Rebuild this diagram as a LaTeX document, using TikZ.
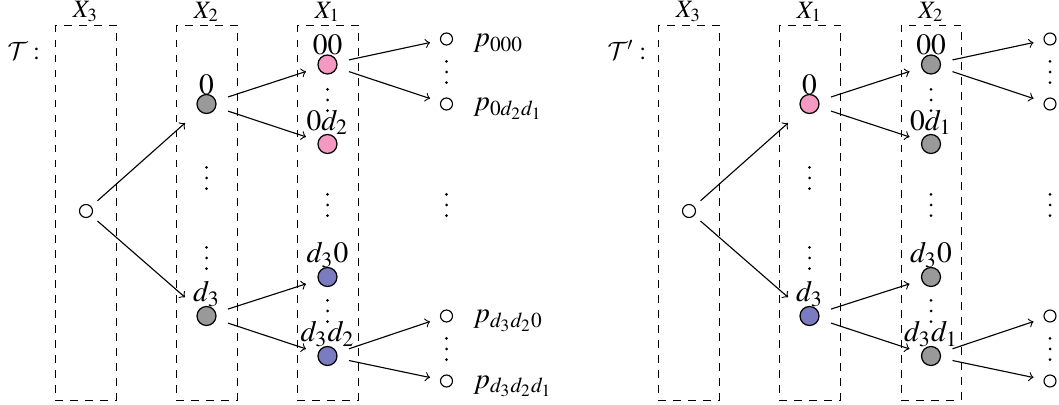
\documentclass[tikz,border=0pt]{standalone}
\usepackage{mathptmx}
\DeclareMathAlphabet{\mathcalcm}{OMS}{cmsy}{m}{n}
\definecolor{pinkc}{HTML}{F49AC2}
\definecolor{grayc}{HTML}{999999}
\definecolor{bluec}{HTML}{7B7BC1}
\newcommand\vdts[2]{\fill (#1,#2-10.7) circle (0.6pt) (#1,#2) circle (0.6pt) (#1,#2+10.7) circle (0.6pt);}
\begin{document}
\begin{tikzpicture}[x=0.4pt,y=-0.4pt,
  cn/.style={rectangle,inner sep=0pt,minimum width=16.8pt,minimum height=16pt,
    path picture={\draw[fill=#1,line width=0.5pt] (path picture bounding box.center) circle (3.8pt);}},
  lab/.style={label={[inner sep=0pt,yshift=-4.6pt,font=\fontsize{11.8}{14}\selectfont]above:#1}},
  leaf/.style={rectangle,inner sep=0pt,minimum width=12.8pt,minimum height=12.8pt,
    path picture={\draw[line width=0.45pt] (path picture bounding box.center) circle (2.4pt);}},
  rootn/.style={rectangle,inner sep=0pt,minimum width=8.8pt,minimum height=8.8pt,
    path picture={\draw[line width=0.45pt] (path picture bounding box.center) circle (2.6pt);}},
  box/.style={dashed,line width=0.35pt},
  conn/.style={->,line width=0.45pt},
  xl/.style={anchor=south,inner sep=1pt},
  pl/.style={anchor=base west,inner sep=0pt,font=\fontsize{11.5}{14}\selectfont},
  tl/.style={anchor=base west,inner sep=0pt}]
\useasboundingbox (0,0) rectangle (1059,405);
\clip (0,0) rectangle (1059,405);

% ---------------- left diagram ----------------
\node[tl] (T) at (7,59.5) {$\mathcalcm{T}:$};
\draw[box] (55,25) rectangle (116,400);
\draw[box] (176,25) rectangle (237,400);
\draw[box] (297,25) rectangle (358,400);
\node[xl] (LX3) at (85.5,25) {$X_3$};
\node[xl] (LX2) at (206.5,25) {$X_2$};
\node[xl] (LX1) at (327.5,25) {$X_1$};

\node[rootn] (R) at (86,211) {};
\node[cn=grayc,lab=$0$] (A0) at (206.5,104) {};
\node[cn=grayc,lab=$d_3$] (A3) at (206.5,316) {};
\node[cn=pinkc,lab=$00$] (B00) at (327.5,64.5) {};
\node[cn=pinkc,lab=$0d_2$] (B0d) at (327.5,144) {};
\node[cn=bluec,lab=$d_30$] (B30) at (327.5,277) {};
\node[cn=bluec,lab=$d_3d_2$] (B3d) at (327.5,356) {};
\node[leaf] (L1) at (446.5,39) {};
\node[leaf] (L2) at (446.5,104) {};
\node[leaf] (L3) at (446.5,316) {};
\node[leaf] (L4) at (446.5,381) {};
\node[pl] (P1) at (473,47) {$p_{000}$};
\node[pl] (P2) at (473,111) {$p_{0d_2d_1}$};
\node[pl] (P3) at (473,323) {$p_{d_3d_20}$};
\node[pl] (P4) at (473,388) {$p_{d_3d_2d_1}$};

\draw[conn] (R) -- (A0);
\draw[conn] (R) -- (A3);
\draw[conn] (A0) -- (B00);
\draw[conn] (A0) -- (B0d);
\draw[conn] (A3) -- (B30);
\draw[conn] (A3) -- (B3d);
\draw[conn] (B00) -- (L1);
\draw[conn] (B00) -- (L2);
\draw[conn] (B3d) -- (L3);
\draw[conn] (B3d) -- (L4);

\vdts{206.5}{178}
\vdts{206.5}{258}
\vdts{327.5}{100}
\vdts{327.5}{205}
\vdts{327.5}{311}
\vdts{446.5}{72}
\vdts{446.5}{205}
\vdts{446.5}{349}

% ---------------- right diagram ----------------
\node[tl] (Tp) at (607,59.5) {$\mathcalcm{T}':$};
\draw[box] (658,25) rectangle (719,400);
\draw[box] (779,25) rectangle (840,400);
\draw[box] (901,25) rectangle (961,400);
\node[xl] (RX3) at (688.5,25) {$X_3$};
\node[xl] (RX1) at (809.5,25) {$X_1$};
\node[xl] (RX2) at (931,25) {$X_2$};

\node[rootn] (S) at (689,211) {};
\node[cn=pinkc,lab=$0$] (C0) at (809.5,104) {};
\node[cn=bluec,lab=$d_3$] (C3) at (809.5,316) {};
\node[cn=grayc,lab=$00$] (D00) at (931,64.5) {};
\node[cn=grayc,lab=$0d_1$] (D0d) at (931,144) {};
\node[cn=grayc,lab=$d_30$] (D30) at (931,277) {};
\node[cn=grayc,lab=$d_3d_1$] (D3d) at (931,356) {};
\node[leaf] (M1) at (1050,39) {};
\node[leaf] (M2) at (1050,104) {};
\node[leaf] (M3) at (1050,316) {};
\node[leaf] (M4) at (1050,381) {};

\draw[conn] (S) -- (C0);
\draw[conn] (S) -- (C3);
\draw[conn] (C0) -- (D00);
\draw[conn] (C0) -- (D0d);
\draw[conn] (C3) -- (D30);
\draw[conn] (C3) -- (D3d);
\draw[conn] (D00) -- (M1);
\draw[conn] (D00) -- (M2);
\draw[conn] (D3d) -- (M3);
\draw[conn] (D3d) -- (M4);

\vdts{809.5}{178}
\vdts{809.5}{258}
\vdts{931}{100}
\vdts{931}{205}
\vdts{931}{311}
\vdts{1050}{72}
\vdts{1050}{205}
\vdts{1050}{349}
\end{tikzpicture}
\end{document}
